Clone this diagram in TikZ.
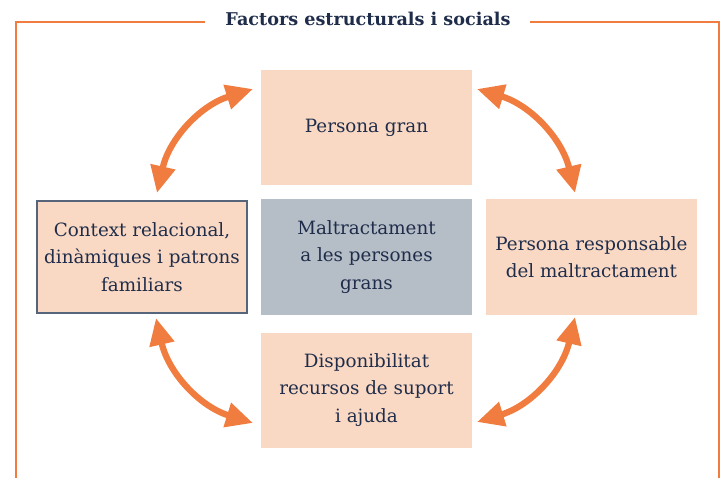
\documentclass[tikz,border=0pt]{standalone}
\usepackage{fontspec}
\setmainfont{DejaVu Serif}
\usetikzlibrary{arrows.meta}
\definecolor{peach}{HTML}{FAD9C4}
\definecolor{slate}{HTML}{B5BDC7}
\definecolor{orng}{HTML}{F07D3F}
\definecolor{navy}{HTML}{1F2D4A}
\definecolor{edge}{HTML}{56657A}
\tikzset{
  box/.style={fill=peach, draw=none, minimum width=211pt, minimum height=115pt, inner sep=0pt,
    text=navy, align=center, font=\fontsize{18.3}{27.5}\selectfont},
  arr/.style={orng, line width=6.3pt, {Triangle[length=27pt,width=24pt]}-{Triangle[length=27pt,width=24pt]}},
  frame/.style={orng, line width=2.8pt}
}
\begin{document}
\begin{tikzpicture}[x=1pt,y=-1pt]
\useasboundingbox (0,0) rectangle (727,478);
% frame
\coordinate (fl) at (16,478);
\coordinate (ftl) at (16,22);
\coordinate (fa) at (205,22);
\coordinate (fb) at (530,22);
\coordinate (ftr) at (719,22);
\coordinate (fr) at (719,478);
\draw[frame] (fl) -- (ftl) -- (fa);
\draw[frame] (fb) -- (ftr) -- (fr);
\node[text=navy, font=\bfseries\fontsize{17.6}{20}\selectfont] (title) at (368,19) {Factors estructurals i socials};
% boxes
\node[box] (gran) at (366.5,128) {Persona gran};
\node[box, draw=edge, line width=2.8pt, minimum width=210pt, minimum height=112pt] (ctx) at (142,257) {Context relacional,\\dinàmiques i patrons\\familiars};
\node[box, fill=slate] (mal) at (366.5,257) {Maltractament\\a les persones\\grans};
\node[box] (resp) at (591.5,257) {Persona responsable\\del maltractament};
\node[box] (disp) at (366.5,390) {Disponibilitat\\recursos de suport\\i ajuda};
% arrow tips
\coordinate (a1) at (157,193);
\coordinate (a2) at (253,89);
\coordinate (b1) at (477,89);
\coordinate (b2) at (575,193);
\coordinate (c1) at (156,318);
\coordinate (c2) at (253,423);
\coordinate (d1) at (575,317);
\coordinate (d2) at (477,422);
\draw[arr] (a1) to[bend left=30] (a2);
\draw[arr] (b1) to[bend left=30] (b2);
\draw[arr] (c1) to[bend right=30] (c2);
\draw[arr] (d1) to[bend left=30] (d2);
\end{tikzpicture}
\end{document}
